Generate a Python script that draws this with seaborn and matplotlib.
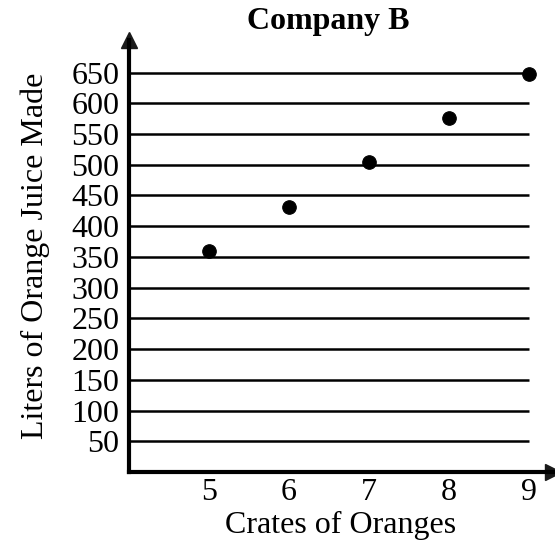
import matplotlib
matplotlib.use("Agg")
import matplotlib.pyplot as plt
import seaborn as sns
import pandas as pd

crates = [5, 6, 7, 8, 9]
liters = [360, 432, 504, 576, 648]
y_ticks = [50, 100, 150, 200, 250, 300, 350, 400, 450, 500, 550, 600, 650]

sns.set_theme(style="white")
plt.rcParams["font.family"] = ["Liberation Serif", "DejaVu Serif"]

df = pd.DataFrame({"Crates": crates, "Liters": liters})

fig = plt.figure(figsize=(5.55, 5.4), dpi=100)
ax = fig.add_axes([129 / 555, 68 / 540, (553 - 129) / 555, (472 - 40) / 540])

ax.hlines(y_ticks, min(crates) - 1, max(crates), color="black", linewidth=1.8, zorder=1)
sns.scatterplot(data=df, x="Crates", y="Liters", color="black", s=95,
                edgecolor="black", ax=ax, zorder=3, clip_on=False)

ax.set_xlim(4, 9.3)
ax.set_ylim(0, 703)
ax.set_xticks(crates)
ax.set_yticks(y_ticks)
ax.tick_params(axis="both", length=0, labelsize=23, colors="black")
ax.tick_params(axis="y", pad=7)
ax.tick_params(axis="x", pad=4)

for s in ["top", "right"]:
    ax.spines[s].set_visible(False)
for s in ["left", "bottom"]:
    ax.spines[s].set_color("black")
    ax.spines[s].set_linewidth(3)

# arrow heads
ax.plot(1, 0, ">k", markersize=12, transform=ax.transAxes, clip_on=False)
ax.plot(0, 1, "^k", markersize=12, transform=ax.transAxes, clip_on=False)

ax.set_xlabel("Crates of Oranges", fontsize=23, color="black", labelpad=3)
ax.set_ylabel("Liters of Orange Juice Made", fontsize=23, color="black", labelpad=15)
fig.text(328 / 555, 1 - 22 / 540, "Company B", fontsize=23, fontweight="bold",
         ha="center", va="center", color="black")

plt.savefig("out.png", dpi=100)
plt.close()
